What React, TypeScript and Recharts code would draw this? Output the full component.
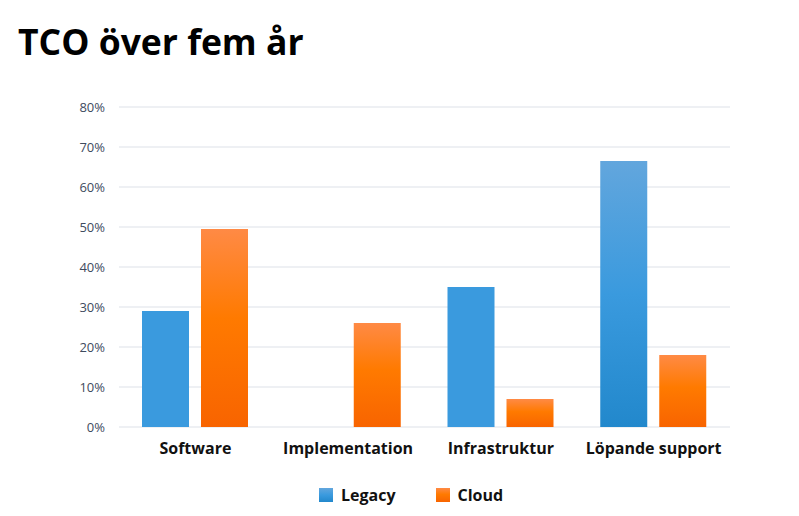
import { Bar, BarChart, CartesianGrid, Cell, XAxis, YAxis } from "recharts";

const categories = ["Software", "Implementation", "Infrastruktur", "Löpande support"];
const legacy = [29, 0, 35, 66.5];
const cloud = [49.5, 26, 7, 18];
const yTicks = [0, 10, 20, 30, 40, 50, 60, 70, 80];

const data = categories.map((name, i) => ({ name, legacy: legacy[i], cloud: cloud[i] }));

const font = "'Open Sans', 'Noto Sans', sans-serif";

function LegendBox() {
  const items = [
    { label: "Legacy", fill: "url(#legacyGrad)" },
    { label: "Cloud", fill: "url(#cloudGrad)" },
  ];
  return (
    <div style={{ position: "absolute", left: 319, top: 484, display: "flex", gap: 40, fontFamily: font, fontWeight: 700, fontSize: 16, color: "#111" }}>
      {items.map((it) => (
        <div key={it.label} style={{ display: "flex", alignItems: "center", gap: 8 }}>
          <svg width={14} height={14}>
            <rect width={14} height={14} fill={it.fill} />
          </svg>
          <span>{it.label}</span>
        </div>
      ))}
    </div>
  );
}

export default function App() {
  return (
    <div style={{ position: "relative", width: 799, height: 516, background: "#fff" }}>
      <style>{`body{margin:0}`}</style>
      <div style={{ position: "absolute", left: 18, top: 19, fontFamily: font, fontWeight: 700, fontSize: 35.5, lineHeight: "44px", color: "#000", zIndex: 1 }}>
        TCO över fem år
      </div>
      <BarChart
        width={799}
        height={516}
        data={data}
        margin={{ top: 107, right: 69, bottom: 59, left: 0 }}
        barCategoryGap={23}
        barGap={12}
      >
        <defs>
          <linearGradient id="cloudGrad" x1="0" y1="0" x2="0" y2="1">
            <stop offset="0%" stopColor="#ff8a45" />
            <stop offset="45%" stopColor="#ff7a00" />
            <stop offset="100%" stopColor="#f86400" />
          </linearGradient>
          <linearGradient id="legacyGrad" x1="0" y1="0" x2="0" y2="1">
            <stop offset="0%" stopColor="#62a6dd" />
            <stop offset="50%" stopColor="#3a9ade" />
            <stop offset="100%" stopColor="#2288cc" />
          </linearGradient>
        </defs>
        <CartesianGrid vertical={false} stroke="#dde1e8" />
        <XAxis
          dataKey="name"
          height={30}
          axisLine={false}
          tickLine={false}
          tickSize={0}
          tickMargin={16}
          tick={{ fontFamily: font, fontWeight: 700, fontSize: 16, fill: "#111" }}
        />
        <YAxis
          width={119}
          domain={[0, 80]}
          ticks={yTicks}
          tickFormatter={(v) => `${v}%`}
          axisLine={false}
          tickLine={false}
          tickSize={0}
          tickMargin={14}
          tick={{ fontFamily: font, fontSize: 13, fill: "#3e4b5e" }}
        />
        <Bar dataKey="legacy" isAnimationActive={false}>
          {data.map((d, i) => (
            <Cell key={i} fill={legacy[i] > 50 ? "url(#legacyGrad)" : "#3a9ade"} />
          ))}
        </Bar>
        <Bar dataKey="cloud" fill="url(#cloudGrad)" isAnimationActive={false} />
      </BarChart>
      <LegendBox />
    </div>
  );
}
